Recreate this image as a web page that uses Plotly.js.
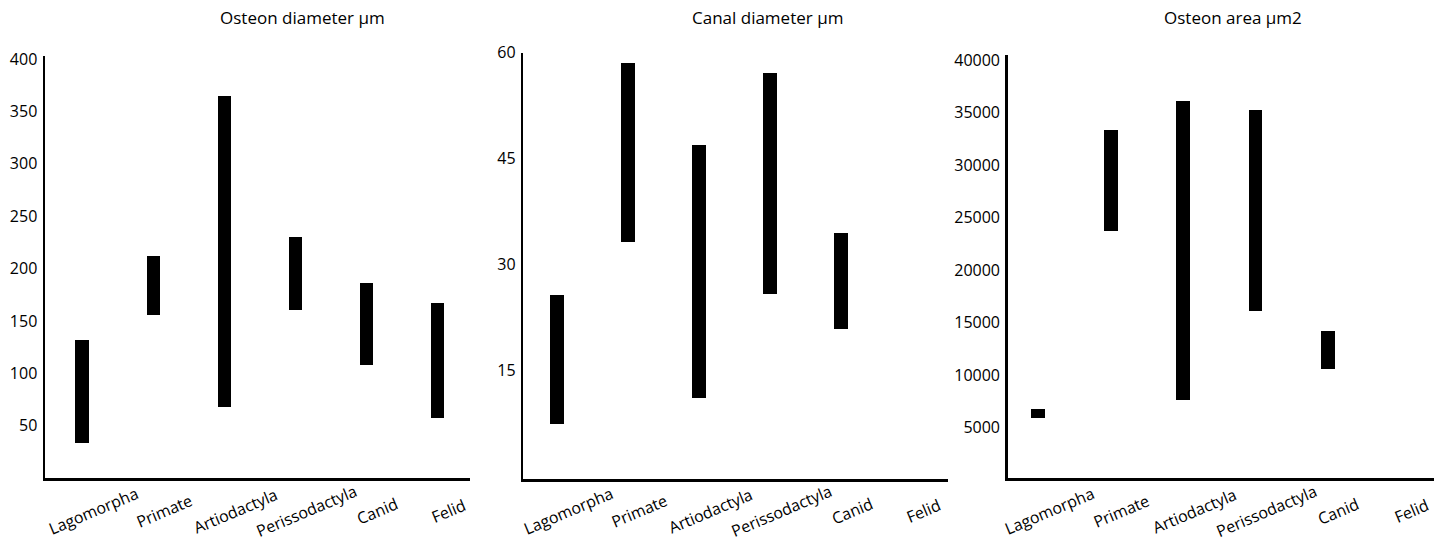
<!DOCTYPE html>
<html>
<head>
<meta charset="utf-8">
<script src="https://cdn.plot.ly/plotly-3.0.1.min.js"></script>
<style>html,body{margin:0;padding:0;background:#fff;}#chart{width:1434px;height:542px;}</style>
</head>
<body>
<div id="chart"></div>
<script>
// ---- data ----
var categories = ["Lagomorpha", "Primate", "Artiodactyla", "Perissodactyla", "Canid", "Felid"];
var panelTitles = ["Osteon diameter \u00b5m", "Canal diameter \u00b5m", "Osteon area \u00b5m2"];

var osteonDiamLow  = [33, 156, 68, 160, 108, 57];
var osteonDiamHigh = [132, 212, 365, 230, 186, 167];
var osteonDiamTicks = [50, 100, 150, 200, 250, 300, 350, 400];

var canalDiamLow  = [7.3, 33.2, 11.0, 25.8, 20.8, null];
var canalDiamHigh = [25.7, 58.5, 46.9, 57.1, 34.4, null];
var canalDiamTicks = [15, 30, 45, 60];

var osteonAreaLow  = [5880, 23760, 7590, 16100, 10580, null];
var osteonAreaHigh = [6730, 33360, 36150, 35290, 14200, null];
var osteonAreaTicks = [5000, 10000, 15000, 20000, 25000, 30000, 35000, 40000];

// ---- build ----
var W = 1434, H = 542;
var FONT = "Open Sans, Liberation Sans, sans-serif";
function px2x(p){ return p / W; }
function px2y(p){ return 1 - p / H; }

function spans(lo, hi){
  return lo.map(function(v, i){ return (v === null || hi[i] === null) ? null : hi[i] - v; });
}

var panels = [
  {lo: osteonDiamLow, hi: osteonDiamHigh, ticks: osteonDiamTicks, xs: "x", ys: "y"},
  {lo: canalDiamLow, hi: canalDiamHigh, ticks: canalDiamTicks, xs: "x2", ys: "y2"},
  {lo: osteonAreaLow, hi: osteonAreaHigh, ticks: osteonAreaTicks, xs: "x3", ys: "y3"}
];

var data = panels.map(function(p){
  return {
    type: "bar",
    x: categories,
    y: spans(p.lo, p.hi),
    base: p.lo,
    width: 0.19,
    marker: {color: "#000000", line: {width: 0}},
    xaxis: p.xs, yaxis: p.ys,
    hoverinfo: "skip"
  };
});

function xax(d0, d1, r){
  return {
    domain: [px2x(d0), px2x(d1)], type: "category", categoryorder: "array", categoryarray: categories,
    range: r, showline: true, linecolor: "#000", linewidth: 3, showticklabels: false,
    ticks: "", showgrid: false, zeroline: false, fixedrange: true
  };
}
function yax(top, bottom, r, tv, anchor){
  return {
    domain: [px2y(bottom), px2y(top)], range: r, anchor: anchor,
    showline: true, linecolor: "#000", linewidth: 2.5, ticks: "",
    tickmode: "array", tickvals: tv, tickformat: "d",
    tickfont: {family: FONT, size: 16, color: "#000"},
    showgrid: false, zeroline: false, fixedrange: true, ticklabelstandoff: 2
  };
}

var layout = {
  width: W, height: H,
  margin: {l: 0, r: 0, t: 0, b: 0, pad: 0},
  paper_bgcolor: "#fff", plot_bgcolor: "#fff",
  showlegend: false, bargap: 0,
  xaxis:  xax(45, 470, [-0.524, 5.459]),
  xaxis2: xax(523.3, 948, [-0.4755, 5.506]),
  xaxis3: xax(1007.7, 1434, [-0.4227, 5.466]),
  yaxis:  yax(56, 478, [0, 403], osteonDiamTicks, "x"),
  yaxis2: yax(52.7, 479.3, [-0.5, 60], canalDiamTicks, "x2"),
  yaxis3: yax(55, 477.7, [210, 40506], osteonAreaTicks, "x3"),
  annotations: []
};
layout.xaxis2.anchor = "y2";
layout.xaxis3.anchor = "y3";

var titleX = [302, 767, 1233];
panelTitles.forEach(function(t, i){
  layout.annotations.push({
    text: t, xref: "paper", yref: "paper", x: px2x(titleX[i]), y: px2y(17),
    xanchor: "center", yanchor: "middle", showarrow: false,
    font: {family: FONT, size: 17, color: "#000"}
  });
});

panels.forEach(function(p){
  categories.forEach(function(c){
    layout.annotations.push({
      text: c, xref: p.xs, yref: "paper", x: c, y: px2y(511),
      xanchor: "center", yanchor: "middle", textangle: -23, xshift: 11,
      showarrow: false, font: {family: FONT, size: 16, color: "#000"}
    });
  });
});

Plotly.newPlot("chart", data, layout, {staticPlot: true, displayModeBar: false});
</script>
</body>
</html>
